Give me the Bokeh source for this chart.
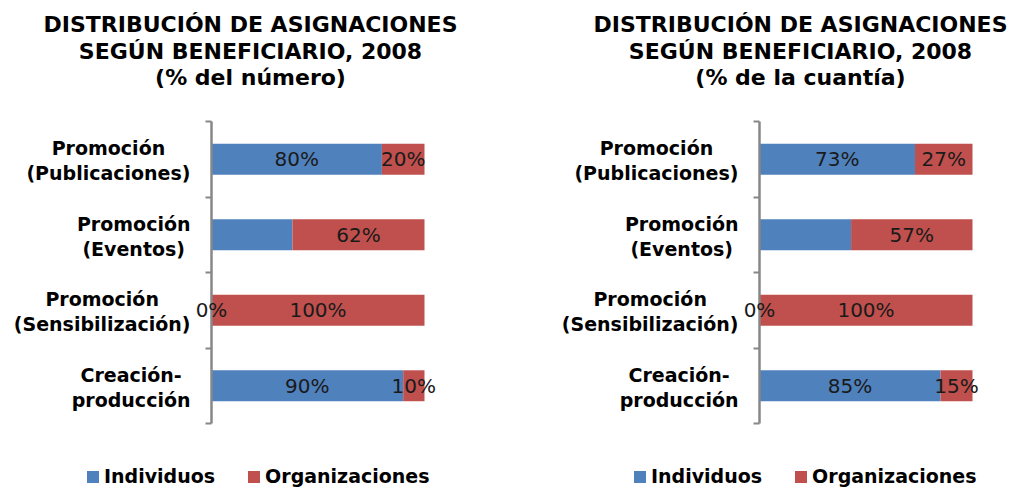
from bokeh.plotting import figure
from bokeh.models import (ColumnDataSource, FixedTicker, Label, LabelSet, Range1d,
                          LinearAxis)
from bokeh.core.properties import value
from bokeh.layouts import row
from bokeh.embed import file_html
from bokeh.resources import INLINE

# ---- data (bottom to top) ----
categories = ["Creación-\nproducción", "Promoción\n(Sensibilización)",
              "Promoción\n(Eventos)", "Promoción\n(Publicaciones)"]
series_names = ["Individuos", "Organizaciones"]

num_individuos = [90, 0, 38, 80]
num_organizaciones = [10, 100, 62, 20]
num_ind_labels = ["90%", "0%", "", "80%"]
num_org_labels = ["10%", "100%", "62%", "20%"]

cuan_individuos = [85, 0, 43, 73]
cuan_organizaciones = [15, 100, 57, 27]
cuan_ind_labels = ["85%", "0%", "", "73%"]
cuan_org_labels = ["15%", "100%", "57%", "27%"]

title_num = ["DISTRIBUCIÓN DE ASIGNACIONES", "SEGÚN BENEFICIARIO, 2008", "(% del número)"]
title_cuan = ["DISTRIBUCIÓN DE ASIGNACIONES", "SEGÚN BENEFICIARIO, 2008", "(% de la cuantía)"]

BLUE = "#4F81BD"
RED = "#C0504D"
AXIS_GRAY = "#878787"
FONT = "DejaVu Sans"
CAT_SIZE = 19

# approximate advance widths (em) of DejaVu Sans Bold, used to centre the
# two lines of each category label inside a right-aligned block
_ADV = {" ": .348, "(": .457, ")": .457, "-": .415, "C": .734, "E": .683,
        "P": .733, "S": .720, "a": .675, "b": .716, "c": .593, "d": .716,
        "e": .678, "i": .343, "l": .343, "m": 1.042, "n": .712, "o": .687,
        "ó": .687, "p": .716, "r": .493, "s": .595, "t": .478, "u": .712,
        "v": .652, "z": .582}


def text_w(s, size):
    return sum(_ADV.get(ch, .65) for ch in s) * size


# ---- layout (pixels) ----
W, H = 507, 490
FL = 12                    # frame left edge inside each figure
BAR_TOP, BAR_BOTTOM = 121, 423
BAR_W = 213                # pixel width of 0..100


def panel(ind, org, ind_lab, org_lab, title_lines, axis_px, title_cx, legend_left):
    kx = BAR_W / 100.0
    ky = (BAR_BOTTOM - BAR_TOP) / len(categories)

    def dx(px):
        return (px - axis_px) / kx

    def dy(py):
        return (BAR_BOTTOM - py) / ky

    p = figure(width=W, height=H, output_backend="svg", toolbar_location=None,
               x_range=Range1d(dx(FL), dx(W)), y_range=Range1d(dy(H), dy(0)),
               x_axis_location=None, y_axis_location=None,
               min_border_left=FL, min_border_right=0,
               min_border_top=0, min_border_bottom=0)
    p.outline_line_color = None
    p.xgrid.visible = False
    p.ygrid.visible = False
    p.background_fill_color = "white"
    p.border_fill_color = "white"

    ys = [i + 0.5 for i in range(len(categories))]
    src = ColumnDataSource(dict(
        y=ys, ind=ind, org=org,
        ind_right=ind,
        org_right=[a + b for a, b in zip(ind, org)],
        ind_mid=[a / 2 for a in ind],
        org_mid=[a + b / 2 for a, b in zip(ind, org)],
        ind_lab=ind_lab, org_lab=org_lab,
    ))
    p.hbar(y="y", left=0, right="ind_right", height=0.41, source=src,
           fill_color=BLUE, line_color=None, legend_label=series_names[0])
    p.hbar(y="y", left="ind_right", right="org_right", height=0.41, source=src,
           fill_color=RED, line_color=None, legend_label=series_names[1])

    # value axis line with boundary ticks
    ax = LinearAxis(fixed_location=0, bounds=(0, len(categories)),
                    ticker=FixedTicker(ticks=[], minor_ticks=list(range(len(categories) + 1))))
    ax.major_tick_in = 0
    ax.major_tick_out = 0
    ax.minor_tick_in = 0
    ax.minor_tick_out = 6
    ax.minor_tick_line_color = AXIS_GRAY
    ax.minor_tick_line_width = 2
    ax.axis_line_color = AXIS_GRAY
    ax.axis_line_width = 2.5
    ax.major_label_standoff = 0
    ax.major_label_text_font_size = "0px"
    p.add_layout(ax, "left")

    # category labels: block right-aligned, lines centred within the block
    right_px = axis_px - 21
    line_gap = 12.5 / ky
    shift = -1.5 / ky
    cx, cy, ct = [], [], []
    for y, cat in zip(ys, categories):
        lines = cat.split("\n")
        bw = max(text_w(l, CAT_SIZE) for l in lines)
        n = len(lines)
        for j, l in enumerate(lines):
            cx.append(dx(right_px - bw / 2))
            cy.append(y + shift + line_gap * (n - 1 - 2 * j))
            ct.append(l)
    csrc = ColumnDataSource(dict(x=cx, y=cy, t=ct))
    p.add_layout(LabelSet(x="x", y="y", text="t", source=csrc,
                          text_align="center", text_baseline="middle",
                          text_font=value(FONT), text_font_style="bold",
                          text_font_size=f"{CAT_SIZE}px", text_color="black"))

    # data labels
    for xcol, tcol in (("ind_mid", "ind_lab"), ("org_mid", "org_lab")):
        p.add_layout(LabelSet(x=xcol, y="y", text=tcol, source=src,
                              text_align="center", text_baseline="middle",
                              text_font=value(FONT), text_font_size="20px",
                              text_color="#1a1a1a"))

    # title lines
    for line, ypx in zip(title_lines, (24, 51, 77)):
        p.add_layout(Label(x=dx(title_cx), y=dy(ypx), text=line,
                           text_align="center", text_baseline="middle",
                           text_font=FONT, text_font_style="bold",
                           text_font_size="22px", text_color="black"))

    lg = p.legend[0]
    lg.orientation = "horizontal"
    lg.location = (legend_left - FL, 3)
    lg.border_line_color = None
    lg.background_fill_alpha = 0
    lg.padding = 0
    lg.margin = 0
    lg.spacing = 31
    lg.glyph_width = 15
    lg.glyph_height = 15
    lg.label_standoff = 4
    lg.label_text_font = FONT
    lg.label_text_font_style = "bold"
    lg.label_text_font_size = "19px"
    lg.label_text_color = "black"
    return p


p1 = panel(num_individuos, num_organizaciones, num_ind_labels, num_org_labels,
           title_num, 211, 250, 85)
p2 = panel(cuan_individuos, cuan_organizaciones, cuan_ind_labels, cuan_org_labels,
           title_cuan, 759 - W, 800 - W, 632 - W)

layout = row(p1, p2)
open("out.html", "w").write(file_html(layout, INLINE))
